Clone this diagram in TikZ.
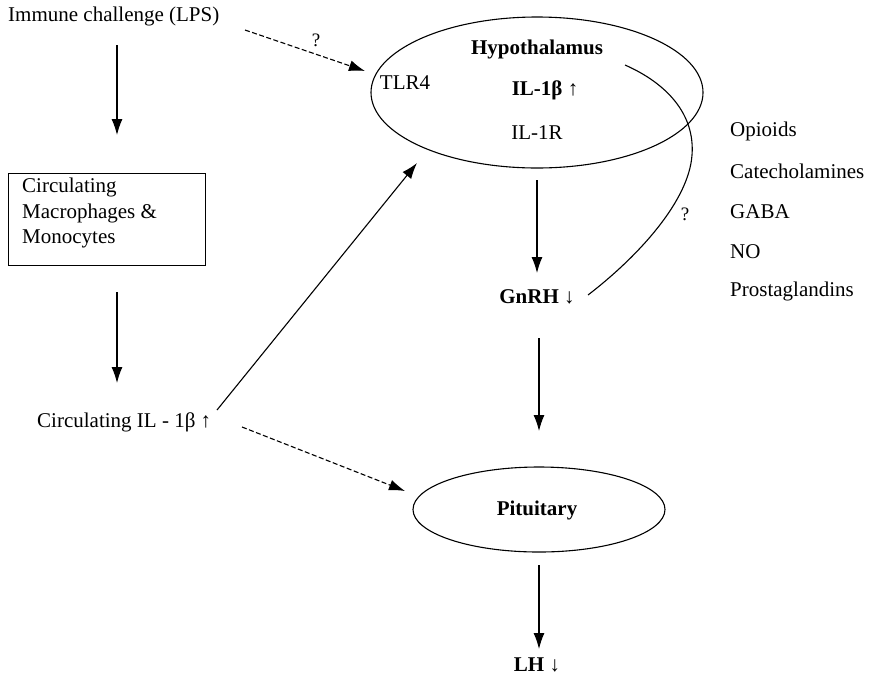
\documentclass[tikz,border=0pt]{standalone}
\usepackage{fontspec}
\setmainfont{Liberation Serif}
\usetikzlibrary{arrows.meta}
\begin{document}
\begin{tikzpicture}[x=1pt,y=-1pt,
  every node/.style={font=\fontsize{21}{25}\selectfont, inner sep=0pt},
  bold/.style={font=\fontsize{21}{25}\selectfont\bfseries},
  conn/.style={line width=1.1pt, -{Latex[length=16pt,width=11pt]}},
  dconn/.style={conn, dash pattern=on 5pt off 2.5pt},
  qmark/.style={font=\fontsize{19}{21}\selectfont}]
\useasboundingbox (0,0) rectangle (869,681);
% left column
\node[anchor=west] (lps) at (8,16) {Immune challenge (LPS)};
\node[draw, line width=1.1pt, anchor=north west, minimum width=197pt, minimum height=92pt, inner sep=0pt] (box) at (8,173) {};
\node[anchor=north west, align=left, font=\fontsize{21}{25.5}\selectfont] (boxtext) at (22,178) {Circulating\\Macrophages \&\\Monocytes};
\node[anchor=west] (cil) at (37,422) {Circulating IL - 1β ↑};
\coordinate (a1s) at (117,45);
\coordinate (a1e) at (117,135);
\coordinate (a2s) at (117,292);
\coordinate (a2e) at (117,383);
\draw[conn] (a1s) -- (a1e);
\draw[conn] (a2s) -- (a2e);
% hypothalamus
\draw[line width=1.1pt] (537,92.5) ellipse [x radius=166, y radius=75.5];
\node[bold] (hyp) at (537,49) {Hypothalamus};
\node[bold] (il1b) at (545,90) {IL-1β ↑};
\node (il1r) at (537,133) {IL-1R};
\node (tlr4) at (405,83) {TLR4};
\node[bold] (gnrh) at (537,297) {GnRH ↓};
% right list
\node[anchor=west] (op) at (730,131) {Opioids};
\node[anchor=west] (cat) at (730,171) {Catecholamines};
\node[anchor=west] (gaba) at (730,212) {GABA};
\node[anchor=west] (no) at (730,252) {NO};
\node[anchor=west] (pg) at (730,291) {Prostaglandins};
% pituitary
\draw[line width=1.1pt] (539,509.5) ellipse [x radius=126, y radius=42.5];
\node[bold] (pit) at (537,510) {Pituitary};
\node[bold] (lh) at (537,665) {LH ↓};
% connectors
\coordinate (d1s) at (245,30);
\coordinate (d1e) at (365,71);
\draw[dconn] (d1s) -- (d1e);
\node[qmark] (q1) at (316,40) {?};
\coordinate (s1s) at (217,410);
\coordinate (s1e) at (417,163);
\draw[conn] (s1s) -- (s1e);
\coordinate (d2s) at (242,427);
\coordinate (d2e) at (405,491);
\draw[dconn] (d2s) -- (d2e);
\coordinate (h1s) at (537,180);
\coordinate (h1e) at (537,273);
\draw[conn] (h1s) -- (h1e);
\coordinate (g1s) at (539,338);
\coordinate (g1e) at (539,431);
\draw[conn] (g1s) -- (g1e);
\coordinate (p1s) at (539,565);
\coordinate (p1e) at (539,649);
\draw[conn] (p1s) -- (p1e);
\coordinate (cs) at (625,65);
\coordinate (cm) at (692,155);
\coordinate (ce) at (588,295);
\draw[line width=1.1pt] (cs) .. controls (668,84) and (695,115) .. (cm) .. controls (689,200) and (640,255) .. (ce);
\node[qmark] (q2) at (685,214) {?};
\end{tikzpicture}
\end{document}
